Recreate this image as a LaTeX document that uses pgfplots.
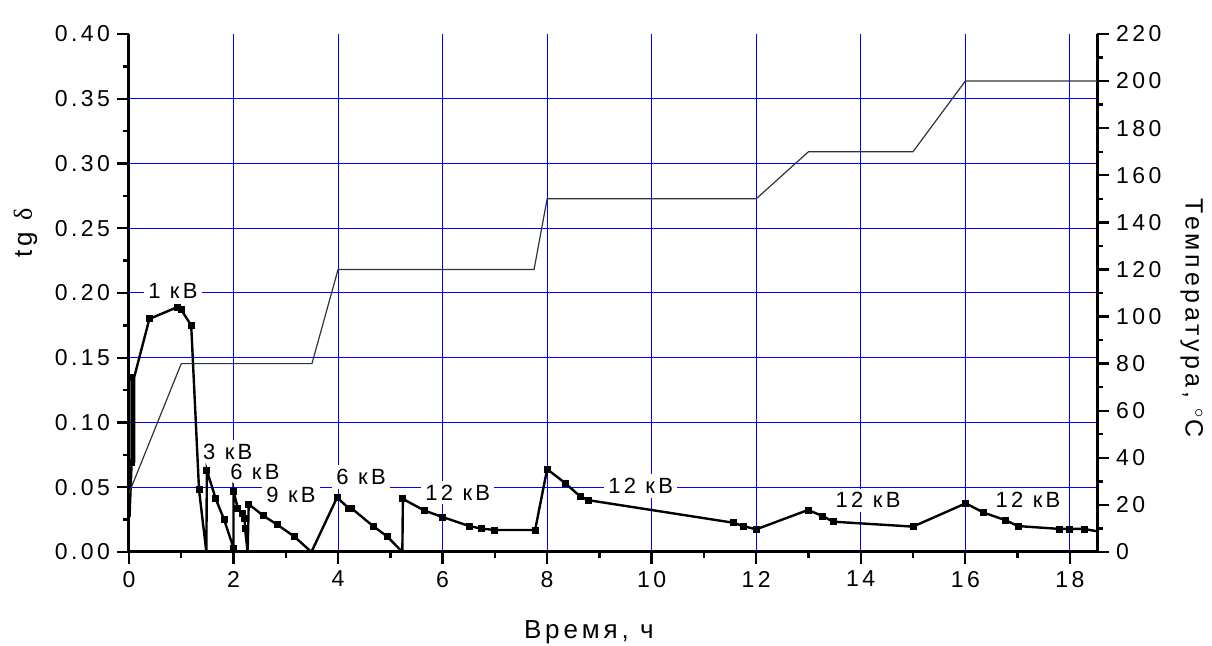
\documentclass[border=0pt]{standalone}
\usepackage{fontspec}
\setmainfont{Liberation Sans}[LetterSpace=15]
\newfontfamily\grfont{Liberation Serif}
\usepackage{pgfplots}
\pgfplotsset{compat=1.18}
\usetikzlibrary{calc}

\pgfplotstableread{
t tg
0.01 0.027
0.05 0.069
0.05 0.135
0.10 0.135
0.10 0.069
0.10 0.135
0.39 0.180
0.92 0.189
1.00 0.187
1.19 0.175
1.34 0.048
1.48 0.000
1.49 0.063
1.66 0.041
1.82 0.025
2.00 0.003
2.00 0.047
2.08 0.034
2.17 0.030
2.21 0.026
2.22 0.018
2.27 0.000
2.29 0.037
2.57 0.028
2.84 0.021
3.16 0.012
3.49 0.000
3.98 0.042
4.20 0.034
4.25 0.034
4.67 0.020
4.94 0.012
5.23 0.000
5.24 0.041
5.65 0.032
6.00 0.027
6.51 0.020
6.75 0.018
7.00 0.017
7.77 0.017
8.00 0.064
8.35 0.053
8.63 0.043
8.79 0.040
11.56 0.0226
11.75 0.020
12.00 0.0175
12.99 0.0324
13.27 0.0278
13.47 0.0234
15.00 0.0196
16.01 0.0376
16.35 0.0304
16.76 0.0247
17.01 0.020
17.81 0.0178
18.00 0.0178
18.27 0.0178
18.52 0.016
}\tgline

\pgfplotstableread{
t tg
0.05 0.069
0.05 0.135
0.39 0.180
0.92 0.189
1.00 0.187
1.19 0.175
1.34 0.048
1.49 0.063
1.66 0.041
1.82 0.025
2.00 0.003
2.00 0.047
2.08 0.034
2.17 0.030
2.21 0.026
2.22 0.018
2.29 0.037
2.57 0.028
2.84 0.021
3.16 0.012
3.98 0.042
4.20 0.034
4.25 0.034
4.67 0.020
4.94 0.012
5.24 0.041
5.65 0.032
6.00 0.027
6.51 0.020
6.75 0.018
7.00 0.017
7.77 0.017
8.00 0.064
8.35 0.053
8.63 0.043
8.79 0.040
11.56 0.0226
11.75 0.020
12.00 0.0175
12.99 0.0324
13.27 0.0278
13.47 0.0234
15.00 0.0196
16.01 0.0376
16.35 0.0304
16.76 0.0247
17.01 0.020
17.81 0.0178
18.00 0.0178
18.27 0.0178
}\tgmarks

\pgfplotstableread{
t T
0 25
1.0 80
3.5 80
4.0 120
7.75 120
8.0 150
12.0 150
13.0 170
15.0 170
16.0 200
18.52 200
}\temp

\tikzset{lbl/.style={fill=white, inner sep=2pt, font=\fontsize{11}{13}\selectfont}}

\begin{document}
\begin{tikzpicture}
\pgfplotsset{
  common/.style={
    scale only axis, width=484pt, height=259pt,
    xmin=0, xmax=18.52,
    tick align=outside,
    major tick length=6pt, minor tick length=3pt,
    every tick/.style={black, line width=1.2pt},
    axis line style={line width=1.5pt, -},
    /pgf/number format/assume math mode=true,
    tick label style={font=\fontsize{11.5}{13}\selectfont},
    label style={font=\fontsize{13}{15}\selectfont},
  }
}
\begin{axis}[
  common, name=ax, set layers,
  ymin=0, ymax=0.4,
  axis x line*=bottom, axis y line*=left,
  xtick={0,2,4,6,8,10,12,14,16,18},
  minor xtick={1,3,5,7,9,11,13,15,17},
  ytick={0,0.05,0.1,0.15,0.2,0.25,0.3,0.35},
  extra y ticks={0.4}, extra y tick style={grid=none},
  minor ytick={0.025,0.075,0.125,0.175,0.225,0.275,0.325,0.375},
  grid=major, major grid style={blue, line width=0.5pt},
  y tick label style={/pgf/number format/.cd, fixed, fixed zerofill, precision=2},
  xlabel={Время, ч},
  xlabel style={at={(axis description cs:0.475,-0.154)}, anchor=center},
  ylabel={tg {\grfont δ}},
  ylabel style={at={(axis description cs:-0.107,0.616)}, anchor=center},
]
\begin{pgfonlayer}{pre main}
\node[lbl] at (axis cs:0.84,0.2015) {1 кВ};
\node[lbl] at (axis cs:1.89,0.077) {3 кВ};
\node[lbl] at (axis cs:2.41,0.062) {6 кВ};
\node[lbl] at (axis cs:3.10,0.044) {9 кВ};
\node[lbl] at (axis cs:4.44,0.058) {6 кВ};
\node[lbl] at (axis cs:6.29,0.046) {12 кВ};
\node[lbl] at (axis cs:9.79,0.051) {12 кВ};
\node[lbl] at (axis cs:14.14,0.040) {12 кВ};
\node[lbl] at (axis cs:17.2,0.040) {12 кВ};
\end{pgfonlayer}
\addplot[black, line width=1.2pt, mark=none] table[x=t, y=tg] {\tgline};
\addplot[only marks, mark=square*, mark size=1.5pt, black] table[x=t, y=tg] {\tgmarks};
\end{axis}
\begin{axis}[
  common, at={(ax.south west)}, anchor=south west,
  ymin=0, ymax=220,
  axis x line=none, axis y line*=right,
  ytick={0,20,40,60,80,100,120,140,160,180,200,220},
  minor ytick={10,30,50,70,90,110,130,150,170,190,210},
  ylabel={Температура, $^{\circ}$C},
  ylabel style={at={(axis description cs:1.098,0.452)}, anchor=center, rotate=180, font=\fontsize{12.5}{14}\selectfont},
]
\addplot[black!80, line width=0.6pt, mark=none] table[x=t, y=T] {\temp};
\end{axis}
\pgfresetboundingbox
\path ([shift={(-64.5pt,-47pt)}]ax.south west) rectangle ([shift={(57.5pt,17pt)}]ax.north east);
\end{tikzpicture}
\end{document}
